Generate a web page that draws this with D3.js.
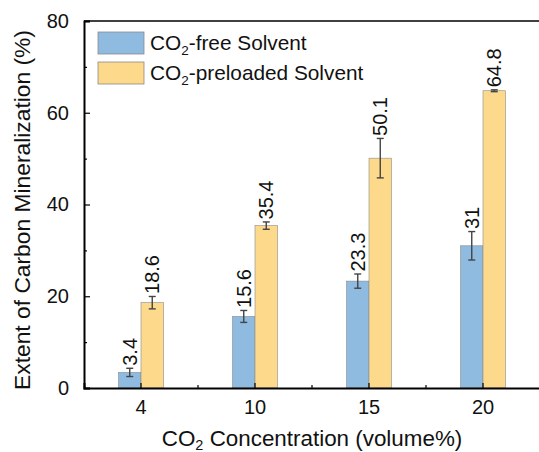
<!DOCTYPE html>
<html>
<head>
<meta charset="utf-8">
<script src="https://cdn.jsdelivr.net/npm/d3@7"></script>
<style>
  html, body { margin: 0; padding: 0; background: #fff; }
  svg { display: block; font-family: "Liberation Sans", Arial, sans-serif; }
</style>
</head>
<body>
<svg id="chart" width="539" height="452"></svg>
<script>
// CO2 concentration groups (volume%)
const categories = ["4", "10", "15", "20"];
// Extent of carbon mineralization (%)
const freeValues = [3.4, 15.6, 23.3, 31];
const freeErrors = [0.9, 1.3, 1.55, 3.1];
const preloadedValues = [18.6, 35.4, 50.1, 64.8];
const preloadedErrors = [1.35, 0.8, 4.3, 0.2];
const seriesNames = ["-free Solvent", "-preloaded Solvent"];
const yTicks = [0, 20, 40, 60, 80];
const yMinorTicks = [10, 30, 50, 70];

const colors = ["#8fbbe1", "#fdd98c"];

const svg = d3.select("#chart");
const margin = { left: 84, top: 21, right: 540, bottom: 388 };

const x = d3.scaleBand().domain(categories).range([margin.left, margin.right]).padding(0);
const y = d3.scaleLinear().domain([0, 80]).range([margin.bottom, margin.top]);
const barW = 22.5;

const series = [
  { name: seriesNames[0], values: freeValues, errors: freeErrors, color: colors[0], offset: -barW },
  { name: seriesNames[1], values: preloadedValues, errors: preloadedErrors, color: colors[1], offset: 0 }
];

// Bars, error bars and value labels
series.forEach(s => {
  const g = svg.append("g");
  const data = categories.map((c, i) => ({ c, v: s.values[i], e: s.errors[i] }));
  const cx = d => x(d.c) + x.bandwidth() / 2 + s.offset + barW / 2;

  g.selectAll("rect").data(data).join("rect")
    .attr("x", d => x(d.c) + x.bandwidth() / 2 + s.offset)
    .attr("width", barW)
    .attr("y", d => y(d.v))
    .attr("height", d => y(0) - y(d.v))
    .attr("fill", s.color)
    .attr("stroke", "#8a8a8a")
    .attr("stroke-width", 0.6);

  const eb = g.selectAll("g.err").data(data).join("g").attr("class", "err")
    .attr("stroke", "#444").attr("stroke-width", 1.4);
  eb.append("line")
    .attr("x1", cx).attr("x2", cx)
    .attr("y1", d => y(d.v + d.e)).attr("y2", d => y(d.v - d.e));
  eb.append("line")
    .attr("x1", d => cx(d) - 3.5).attr("x2", d => cx(d) + 3.5)
    .attr("y1", d => y(d.v + d.e)).attr("y2", d => y(d.v + d.e));
  eb.append("line")
    .attr("x1", d => cx(d) - 3.5).attr("x2", d => cx(d) + 3.5)
    .attr("y1", d => y(d.v - d.e)).attr("y2", d => y(d.v - d.e));

  g.selectAll("text").data(data).join("text")
    .attr("transform", d => `translate(${cx(d)},${y(d.v + d.e) - 2.5}) rotate(-90)`)
    .attr("dy", "0.36em")
    .attr("text-anchor", "start")
    .attr("font-size", 20)
    .attr("fill", "#111")
    .text(d => String(d.v));
});

// Axes: ticks point inward
const yAxis = d3.axisLeft(y).tickValues(yTicks).tickSize(-6).tickPadding(15);
const yMinor = d3.axisLeft(y).tickValues(yMinorTicks).tickSize(-3).tickFormat("");
const xAxis = d3.axisBottom(x).tickSize(-5).tickPadding(12);

const gy = svg.append("g").attr("transform", `translate(${margin.left},0)`).call(yAxis);
svg.append("g").attr("transform", `translate(${margin.left},0)`).call(yMinor)
  .call(g => g.select(".domain").remove());
const gx = svg.append("g").attr("transform", `translate(0,${margin.bottom})`).call(xAxis);

// minor x ticks at group boundaries
svg.append("g").selectAll("line")
  .data(categories.slice(1))
  .join("line")
  .attr("x1", d => x(d)).attr("x2", d => x(d))
  .attr("y1", margin.bottom).attr("y2", margin.bottom - 3)
  .attr("stroke", "#000").attr("stroke-width", 1.2);

[gy, gx].forEach(g => {
  g.select(".domain").attr("stroke", "#000").attr("stroke-width", 2);
  g.selectAll(".tick text").attr("font-size", 20).attr("fill", "#111")
    .attr("font-family", "Liberation Sans, Arial, sans-serif");
});
svg.selectAll(".tick line").attr("stroke", "#000").attr("stroke-width", 1.2);

// top frame line
svg.append("line")
  .attr("x1", margin.left).attr("x2", margin.right)
  .attr("y1", margin.top).attr("y2", margin.top)
  .attr("stroke", "#000").attr("stroke-width", 1.5);

// Axis titles
const xt = svg.append("text")
  .attr("x", (margin.left + margin.right) / 2).attr("y", 446)
  .attr("text-anchor", "middle").attr("font-size", 22.4).attr("fill", "#111");
xt.append("tspan").text("CO");
xt.append("tspan").attr("font-size", 14.5).attr("dy", 4).text("2");
xt.append("tspan").attr("dy", -4).text(" Concentration (volume%)");

svg.append("text")
  .attr("transform", `translate(30,${(30 + 390) / 2}) rotate(-90)`)
  .attr("text-anchor", "middle").attr("font-size", 22.8).attr("fill", "#111")
  .text("Extent of Carbon Mineralization (%)");

// Legend
const legend = svg.append("g");
series.forEach((s, i) => {
  const ly = 32 + i * 30;
  legend.append("rect")
    .attr("x", 98).attr("y", ly).attr("width", 46).attr("height", 22)
    .attr("fill", s.color).attr("stroke", "#8a8a8a").attr("stroke-width", 0.8);
  const t = legend.append("text")
    .attr("x", 150).attr("y", ly + 11).attr("dy", "0.36em")
    .attr("font-size", 20.8).attr("fill", "#111");
  t.append("tspan").text("CO");
  t.append("tspan").attr("font-size", 13.5).attr("dy", 5).text("2");
  t.append("tspan").attr("dy", -5).text(s.name);
});
</script>
</body>
</html>
